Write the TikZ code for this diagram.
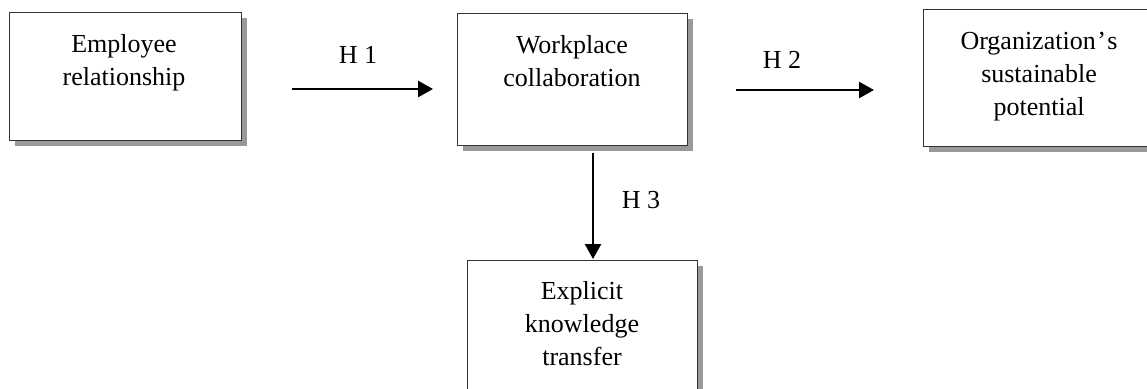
\documentclass[tikz,border=0pt]{standalone}
\usepackage{fontspec}
\setmainfont{Liberation Serif}
\usetikzlibrary{arrows.meta,shadows}
\tikzset{
  box/.style={draw=black!80, line width=1pt, fill=white, rectangle, inner sep=0pt, outer sep=0pt,
    anchor=north west, drop shadow={shadow xshift=6pt, shadow yshift=-6pt, fill=black!40, opacity=1}},
  txt/.style={anchor=north, inner sep=0pt, align=center, font=\fontsize{26}{33}\selectfont},
  hlab/.style={anchor=base, inner sep=0pt, font=\fontsize{26}{33}\selectfont},
  arr/.style={line width=2.6pt, -{Triangle[length=15pt,width=16pt]}}
}
\begin{document}
\begin{tikzpicture}[x=1pt,y=-1pt]
\useasboundingbox (0,0) rectangle (1147,388);
\clip (0,0) rectangle (1147,388);
\node[box, minimum width=232pt, minimum height=128pt] (emp) at (9,12) {};
\node[box, minimum width=230pt, minimum height=132pt] (wc) at (457,13) {};
\node[box, minimum width=240pt, minimum height=137pt] (org) at (923,9) {};
\node[box, minimum width=230pt, minimum height=150pt] (ekt) at (467,260) {};
\node[txt] (empt) at (124,29.5) {\strut Employee\\relationship};
\node[txt] (wct) at (572,30) {\strut Workplace\\collaboration};
\node[txt] (orgt) at (1039,26) {\strut Organization\kern1.5pt’\kern1.5pt s\\sustainable\\potential};
\node[txt] (ektt) at (582,276) {\strut Explicit\\knowledge\\transfer};
\coordinate (h1s) at (292,89);
\coordinate (h1e) at (433,89);
\coordinate (h2s) at (736,90);
\coordinate (h2e) at (874,90);
\coordinate (h3s) at (593,153);
\coordinate (h3e) at (593,259);
\draw[arr] (h1s) -- (h1e);
\draw[arr] (h2s) -- (h2e);
\draw[arr] (h3s) -- (h3e);
\node[hlab] (l1) at (358,63) {H 1};
\node[hlab] (l2) at (782,68) {H 2};
\node[hlab] (l3) at (641,208) {H 3};
\end{tikzpicture}
\end{document}
